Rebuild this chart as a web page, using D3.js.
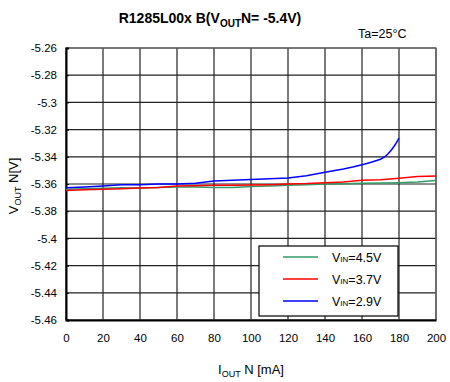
<!DOCTYPE html>
<html>
<head>
<meta charset="utf-8">
<script src="https://cdn.jsdelivr.net/npm/d3@7"></script>
<style>
  body { margin: 0; background: #fff; }
  text { font-family: "Liberation Sans", Arial, sans-serif; fill: #000; }
</style>
</head>
<body>
<svg id="chart"></svg>
<script>
// data
const xTicks = [0, 20, 40, 60, 80, 100, 120, 140, 160, 180, 200];
const yTicks = [-5.26, -5.28, -5.3, -5.32, -5.34, -5.36, -5.38, -5.4, -5.42, -5.44, -5.46];

const iout45 = [0, 10, 20, 30, 40, 50, 60, 70, 80, 90, 100, 110, 120, 130, 140, 150, 160, 170, 180, 190, 200];
const vout45 = [-5.3638, -5.3635, -5.3632, -5.3628, -5.3630, -5.3625, -5.3622, -5.3622, -5.3625, -5.3625, -5.3618,
  -5.3615, -5.3610, -5.3605, -5.3600, -5.3598, -5.3595, -5.3592, -5.3590, -5.3585, -5.3575];

const iout37 = [0, 10, 20, 30, 40, 50, 60, 70, 80, 90, 100, 110, 120, 130, 140, 150, 160, 170, 180, 190, 200];
const vout37 = [-5.3648, -5.3642, -5.3638, -5.3635, -5.3630, -5.3625, -5.3615, -5.3612, -5.3610, -5.3610, -5.3608,
  -5.3605, -5.3600, -5.3597, -5.3590, -5.3585, -5.3572, -5.3568, -5.3558, -5.3545, -5.3542];

const iout29 = [0, 10, 20, 30, 40, 50, 60, 70, 80, 90, 100, 110, 120, 130, 140, 150, 155, 160, 165, 170, 172, 174, 176, 178, 180];
const vout29 = [-5.3628, -5.3622, -5.3615, -5.3605, -5.3605, -5.3600, -5.3600, -5.3595, -5.3578, -5.3572, -5.3566,
  -5.3562, -5.3555, -5.3540, -5.3514, -5.3490, -5.3475, -5.3458, -5.3440, -5.3418, -5.3403, -5.3380, -5.3348, -5.3310, -5.3262];

const seriesNames = ['4.5V', '3.7V', '2.9V'];
const seriesColors = ['#339966', '#ff0000', '#0000ff'];

const W = 450, H = 382;
const margin = {top: 48, right: 14, bottom: 62, left: 66};
const width = W - margin.left - margin.right;
const height = H - margin.top - margin.bottom;

const svg = d3.select('#chart').attr('width', W).attr('height', H);
const chart = svg.append('g').attr('transform', `translate(${margin.left},${margin.top})`);

const xScale = d3.scaleLinear().domain([0, 200]).range([0, width]);
const yScale = d3.scaleLinear().domain([-5.46, -5.26]).range([height, 0]);

// grid
chart.append('g')
    .selectAll('line')
    .data(xTicks)
  .join('line')
    .attr('x1', d => xScale(d)).attr('x2', d => xScale(d))
    .attr('y1', 0).attr('y2', height)
    .attr('stroke', '#222').attr('stroke-width', 1.2);

chart.append('g')
    .selectAll('line')
    .data(yTicks)
  .join('line')
    .attr('y1', d => yScale(d)).attr('y2', d => yScale(d))
    .attr('x1', 0).attr('x2', width)
    .attr('stroke', '#222').attr('stroke-width', 1.2);

// frame
chart.append('rect')
    .attr('width', width).attr('height', height)
    .attr('fill', 'none').attr('stroke', '#666').attr('stroke-width', 1.2);

// axes
const xAxis = d3.axisBottom(xScale).tickValues(xTicks).tickSize(0).tickPadding(14);
const yAxis = d3.axisLeft(yScale).tickValues(yTicks).tickSize(-3).tickPadding(9)
    .tickFormat(d => String(+d.toFixed(2)));

const xAxisG = chart.append('g').attr('transform', `translate(0,${height})`).call(xAxis);
const yAxisG = chart.append('g').call(yAxis);
[xAxisG, yAxisG].forEach(g => {
  g.selectAll('text').style('font-size', '11.5px');
  g.select('.domain').attr('stroke', '#000').attr('stroke-width', 2);
  g.selectAll('.tick line').attr('stroke', '#000');
});

// lines
const line = d3.line().x(d => xScale(d[0])).y(d => yScale(d[1]));
const seriesData = [
  d3.zip(iout45, vout45),
  d3.zip(iout37, vout37),
  d3.zip(iout29, vout29)
];
chart.selectAll('.series')
    .data(seriesData)
  .join('path')
    .attr('class', 'series')
    .attr('d', line)
    .attr('fill', 'none')
    .attr('stroke', (d, i) => seriesColors[i])
    .attr('stroke-width', 1.5);

// legend
const legend = svg.append('g').attr('transform', 'translate(259,246)');
legend.append('rect')
    .attr('width', 139).attr('height', 70)
    .attr('fill', '#fff').attr('stroke', '#000').attr('stroke-width', 1.2);
seriesNames.forEach((name, i) => {
  const y = 11 + i * 22;
  legend.append('line')
      .attr('x1', 24).attr('x2', 59).attr('y1', y).attr('y2', y)
      .attr('stroke', seriesColors[i]).attr('stroke-width', 1.5);
  const t = legend.append('text').attr('x', 73).attr('y', y + 4.5).style('font-size', '12.5px');
  t.append('tspan').text('V');
  t.append('tspan').text('IN').style('font-size', '8px');
  t.append('tspan').text('=' + name);
});

// title
const title = svg.append('text')
    .attr('x', 210).attr('y', 23)
    .attr('text-anchor', 'middle')
    .style('font-size', '14px').style('font-weight', 'bold');
title.append('tspan').text('R1285L00x B(V');
title.append('tspan').text('OUT').style('font-size', '10px').attr('dy', 4);
title.append('tspan').text('N= -5.4V)').attr('dy', -4);

svg.append('text')
    .attr('x', 358).attr('y', 38)
    .style('font-size', '12.5px')
    .text('Ta=25°C');

// axis titles
const xTitle = svg.append('text')
    .attr('x', 251).attr('y', 374)
    .attr('text-anchor', 'middle')
    .style('font-size', '13px');
xTitle.append('tspan').text('I');
xTitle.append('tspan').text('OUT').style('font-size', '9px').attr('dy', 3);
xTitle.append('tspan').text(' N [mA]').attr('dy', -3);

const yTitle = svg.append('text')
    .attr('transform', 'translate(18,186) rotate(-90)')
    .attr('text-anchor', 'middle')
    .style('font-size', '13px');
yTitle.append('tspan').text('V');
yTitle.append('tspan').text('OUT').style('font-size', '9px').attr('dy', 3);
yTitle.append('tspan').text(' N[V]').attr('dy', -3);
</script>
</body>
</html>
